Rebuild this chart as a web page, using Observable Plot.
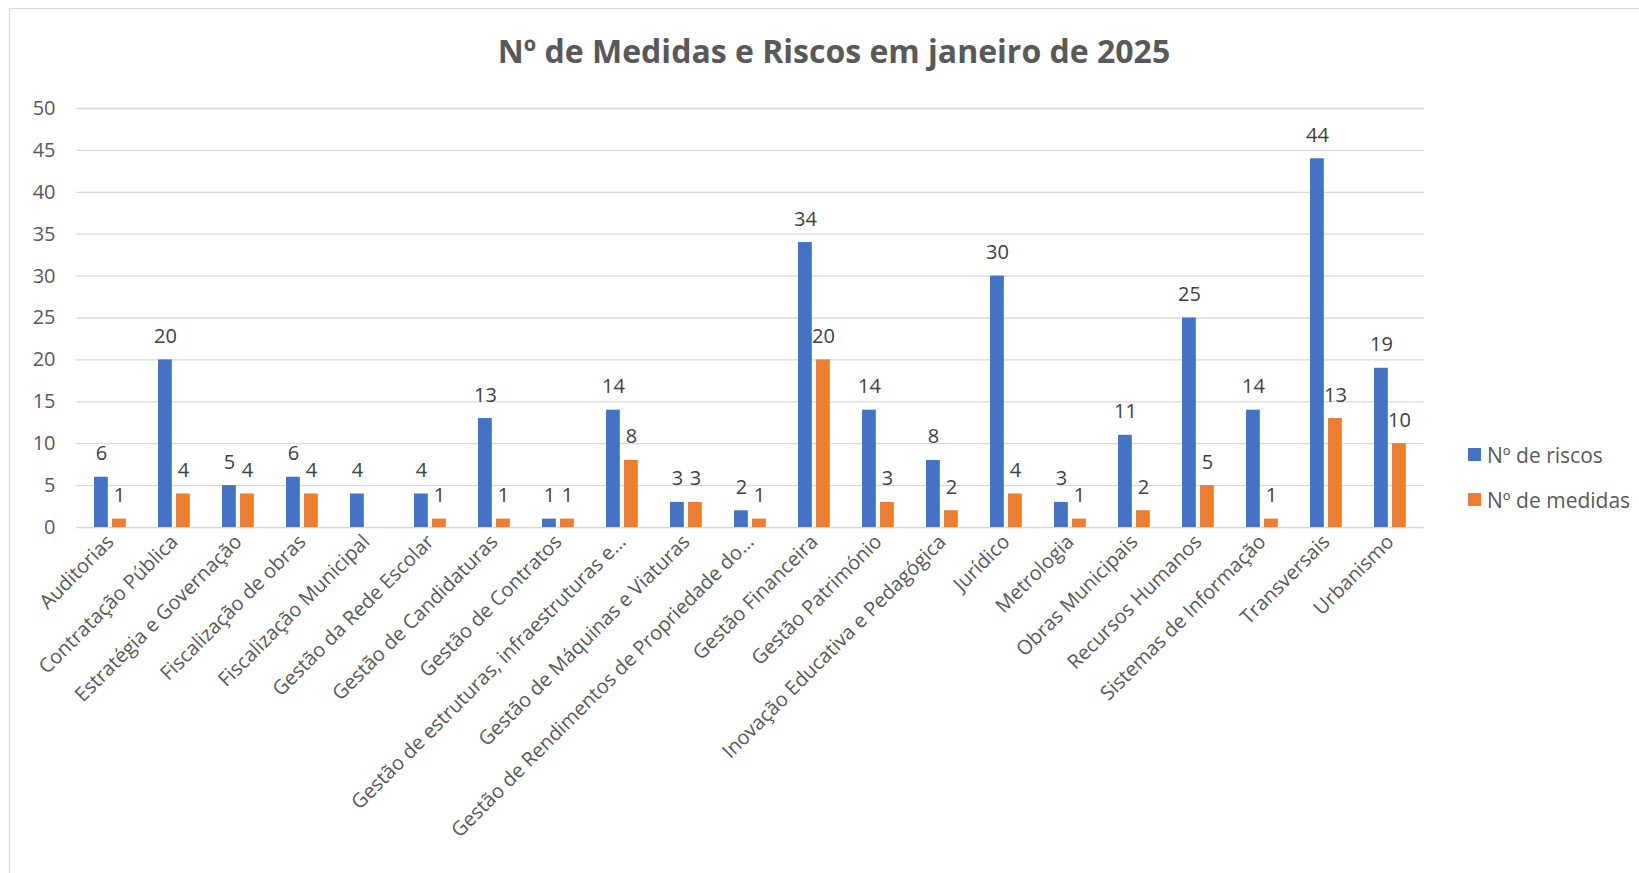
<!DOCTYPE html>
<html>
<head>
<meta charset="utf-8">
<script src="https://cdn.jsdelivr.net/npm/d3@7"></script>
<script src="https://cdn.jsdelivr.net/npm/@observablehq/plot@0.6"></script>
<style>
  html, body { margin: 0; padding: 0; background: #fff; width: 1639px; height: 873px; overflow: hidden; }
  #frame { position: absolute; left: 9px; top: 8px; width: 1700px; height: 900px; border: 1.5px solid #d9d9d9; box-sizing: border-box; }
  #title { position: absolute; left: 0; width: 1668px; top: 29px; text-align: center; font-family: "Open Sans", sans-serif; font-weight: bold; font-size: 32px; color: #595959; }
  #chart { position: absolute; left: 0; top: 78px; }
  #legend { position: absolute; left: 1468px; top: 432px; font-family: "Open Sans", sans-serif; font-size: 21px; color: #595959; }
  .item { display: flex; align-items: center; height: 45px; }
  .sw { width: 13px; height: 13px; margin-right: 6px; }
</style>
</head>
<body>
<div id="frame"></div>
<div id="title">Nº de Medidas e Riscos em janeiro de 2025</div>
<div id="chart"></div>
<div id="legend"></div>
<script>
const categories = [
  "Auditorias", "Contratação Pública", "Estratégia e Governação", "Fiscalização de obras",
  "Fiscalização Municipal", "Gestão da Rede Escolar", "Gestão de Candidaturas", "Gestão de Contratos",
  "Gestão de estruturas, infraestruturas e…", "Gestão de Máquinas e Viaturas",
  "Gestão de Rendimentos de Propriedade do…", "Gestão Financeira", "Gestão Património",
  "Inovação Educativa e Pedagógica", "Jurídico", "Metrologia", "Obras Municipais",
  "Recursos Humanos", "Sistemas de Informação", "Transversais", "Urbanismo"
];
const riscos  = [6, 20, 5, 6, 4, 4, 13, 1, 14, 3, 2, 34, 14, 8, 30, 3, 11, 25, 14, 44, 19];
const medidas = [1, 4, 4, 4, null, 1, 1, 1, 8, 3, 1, 20, 3, 2, 4, 1, 2, 5, 1, 13, 10];
const seriesNames = ["Nº de riscos", "Nº de medidas"];
const seriesColors = ["#4472C4", "#ED7D31"];
const yTicks = [0, 5, 10, 15, 20, 25, 30, 35, 40, 45, 50];

const riscoData = categories.map((c, i) => ({cat: c, v: riscos[i]}));
const medidaData = categories.map((c, i) => ({cat: c, v: medidas[i]})).filter(d => d.v != null);

const font = "'Open Sans', sans-serif";
const plot = Plot.plot({
  width: 1639,
  height: 795,
  marginLeft: 76,
  marginRight: 215,
  marginTop: 30,
  marginBottom: 346,
  style: {fontFamily: font, fontSize: "20px", color: "#595959", background: "transparent"},
  x: {domain: categories, padding: 0, tickRotate: -45, tickSize: 0, tickPadding: 11, label: null},
  y: {domain: [0, 50], ticks: yTicks, tickSize: 0, tickPadding: 21, label: null},
  marks: [
    Plot.ruleY(yTicks, {stroke: "#d9d9d9", strokeWidth: 1.3}),
    Plot.barY(riscoData, {x: "cat", y: "v", fill: seriesColors[0], insetLeft: 16, insetRight: 34.2}),
    Plot.barY(medidaData, {x: "cat", y: "v", fill: seriesColors[1], insetLeft: 34, insetRight: 16.2}),
    Plot.text(riscoData, {x: "cat", y: "v", text: d => String(d.v), dx: -9, dy: -17, lineAnchor: "bottom", fill: "#404040", fontSize: 20}),
    Plot.text(medidaData, {x: "cat", y: "v", text: d => String(d.v), dx: 9, dy: -17, lineAnchor: "bottom", fill: "#404040", fontSize: 20})
  ]
});
document.getElementById("chart").appendChild(plot);

const legend = document.getElementById("legend");
seriesNames.forEach((n, i) => {
  const item = document.createElement("div");
  item.className = "item";
  const sw = document.createElement("div");
  sw.className = "sw";
  sw.style.background = seriesColors[i];
  const t = document.createElement("span");
  t.textContent = n;
  item.appendChild(sw);
  item.appendChild(t);
  legend.appendChild(item);
});
</script>
</body>
</html>
